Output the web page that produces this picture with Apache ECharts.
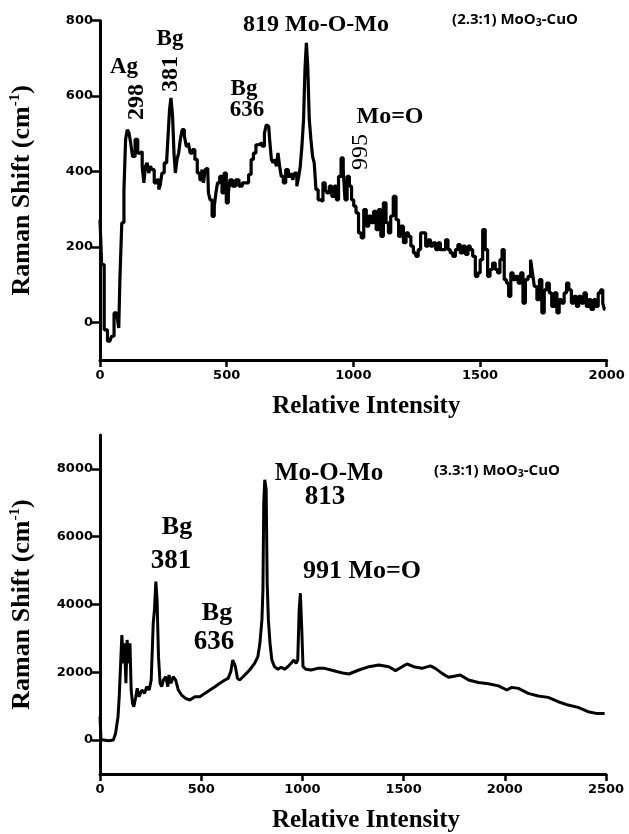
<!DOCTYPE html>
<html><head><meta charset="utf-8">
<script src="https://cdn.jsdelivr.net/npm/echarts@6/dist/echarts.min.js"></script>
<style>html,body{margin:0;padding:0;background:#fff}#c{width:629px;height:834px}</style>
</head><body><div id="c"></div>
<script>
// ---- Top panel: (2.3:1) MoO3-CuO ----
const topXValues = [0,13,20,39,52,59,72,76,81,91,98,104,111,118,124,133,144,154,163,170,176,183,189,196,202,209,219,229,235,241,248,259,268,272,277,283,290,294,301,307,314,320,329,337,344,353,359,370,379,389,399,405,412,418,425,431,438,447,455,460,468,477,486,494,503,510,516,529,542,555,568,581,592,601,610,621,634,645,653,660,666,673,680,686,693,699,706,712,719,728,738,749,758,764,773,781,788,793,801,806,812,817,823,829,836,842,849,856,866,875,885,893,900,910,920,929,937,946,957,963,971,980,989,997,1006,1015,1026,1036,1046,1056,1065,1074,1085,1095,1104,1113,1124,1134,1143,1152,1163,1174,1183,1192,1203,1213,1222,1232,1242,1251,1261,1270,1281,1290,1300,1309,1320,1330,1339,1348,1359,1369,1378,1387,1398,1408,1417,1427,1437,1448,1457,1466,1476,1487,1496,1505,1516,1525,1535,1544,1555,1565,1574,1583,1591,1600,1609,1617,1626,1635,1645,1656,1665,1674,1684,1695,1704,1710,1719,1730,1739,1749,1758,1769,1778,1788,1799,1808,1817,1827,1837,1846,1855,1866,1876,1885,1894,1905,1915,1924,1933,1943,1953,1962,1971,1981,1988,1994];
const topYValues = [272,153,-20,-50,-37,25,25,-15,113,264,350,485,511,502,476,440,485,449,453,414,370,414,423,396,414,405,370,378,352,365,396,423,432,511,564,595,547,449,396,432,449,485,511,494,467,476,449,458,432,396,378,405,370,405,409,343,325,281,308,343,370,387,343,396,317,343,378,361,378,361,370,370,392,432,449,471,476,467,502,524,520,485,432,423,432,414,449,414,387,370,405,387,396,378,396,361,387,414,467,538,670,741,679,538,485,440,423,352,325,321,370,352,343,361,334,361,325,387,436,405,325,387,361,325,308,290,237,224,299,255,282,264,294,246,299,228,317,264,237,282,334,272,228,255,211,237,228,202,184,175,193,237,237,202,219,202,211,193,211,193,193,219,193,184,175,193,206,184,202,180,202,193,175,122,131,166,246,193,122,140,157,140,131,166,193,113,104,69,131,113,122,104,131,51,113,122,166,131,95,60,113,25,86,104,78,42,78,25,60,51,78,104,86,51,69,42,69,51,78,42,60,34,60,42,78,86,51,34];
const topXTicks = [0,500,1000,1500,2000];
const topYTicks = [0,200,400,600,800];

// ---- Bottom panel: (3.3:1) MoO3-CuO ----
const botXValues = [0,5,18,42,66,77,89,95,102,108,115,121,128,134,141,148,154,161,167,177,184,193,207,220,231,243,253,263,269,276,282,289,297,305,313,325,335,341,351,362,374,387,403,423,444,469,494,518,543,568,592,617,633,646,656,663,669,679,690,707,723,739,764,780,790,800,805,809,814,821,826,832,840,849,862,879,895,912,928,944,958,969,977,984,990,997,1003,1018,1043,1076,1109,1142,1174,1207,1230,1279,1329,1378,1427,1460,1493,1517,1550,1591,1632,1657,1690,1722,1755,1780,1821,1870,1919,1969,2010,2034,2067,2116,2165,2214,2264,2313,2362,2411,2452,2493];
const botYValues = [700,0,0,-20,0,200,690,1280,2265,3100,2265,2855,1675,2955,2265,2855,1477,1083,985,1280,1526,1280,1477,1378,1575,1477,1772,3447,3840,4677,4136,2462,1675,1575,1772,1870,1575,1920,1675,1870,1772,1477,1329,1231,1182,1280,1280,1378,1477,1575,1675,1772,1821,2018,2363,2413,2166,1821,1772,1870,1969,2068,2265,2462,2855,3545,4431,6990,7680,7385,4628,3545,2855,2363,2166,2088,2147,2088,2166,2265,2363,2265,2363,3840,4333,3250,2166,2088,2068,2117,2117,2068,2018,1969,1950,2068,2166,2215,2166,2050,2166,2245,2166,2117,2190,2117,1969,1852,1890,1920,1772,1700,1660,1600,1477,1555,1526,1378,1300,1260,1132,1034,965,837,788,788];
const botXTicks = [0,500,1000,1500,2000,2500];
const botYTicks = [0,2000,4000,6000,8000];

const SERIF = '"Liberation Serif","Times New Roman",serif';
const SANS = '"DejaVu Sans",Arial,sans-serif';
const plain = v => String(v);

function xAxisCfg(gi, max, ticks) {
  return {
    type: 'value', gridIndex: gi, min: 0, max: max, interval: 500,
    name: 'Relative Intensity', nameLocation: 'middle', nameGap: 34,
    nameTextStyle: {fontFamily: SERIF, fontWeight: 'bold', fontSize: 25, color: '#000', padding: [0, 0, 0, 26]},
    axisLine: {show: true, onZero: false, lineStyle: {color: '#000', width: 3}},
    axisTick: {show: true, length: 7, lineStyle: {color: '#000', width: 2.5}, customValues: ticks},
    axisLabel: {color: '#000', fontFamily: SANS, fontWeight: 'bold', fontSize: 13, margin: 9, customValues: ticks, formatter: plain},
    splitLine: {show: false}
  };
}
function yAxisCfg(gi, min, max, ticks) {
  return {
    type: 'value', gridIndex: gi, min: min, max: max,
    name: '{a|Raman Shift (cm}{s|-1}{a|)}', nameLocation: 'middle', nameGap: 64, nameRotate: 90,
    nameTextStyle: {rich: {
      a: {fontFamily: SERIF, fontWeight: 'bold', fontSize: 26, color: '#000', lineHeight: 28},
      s: {fontFamily: SERIF, fontWeight: 'bold', fontSize: 15, color: '#000', lineHeight: 28, verticalAlign: 'top'}
    }},
    axisLine: {show: true, onZero: false, lineStyle: {color: '#000', width: 3}},
    axisTick: {show: true, length: 8, lineStyle: {color: '#000', width: 2.5}, customValues: ticks},
    axisLabel: {color: '#000', fontFamily: SANS, fontWeight: 'bold', fontSize: 13, margin: 7, customValues: ticks, formatter: plain},
    splitLine: {show: false}
  };
}

function txt(x, y, text, size, opts) {
  opts = opts || {};
  return {
    type: 'text', x: x, y: y, rotation: opts.rot || 0, z: 100,
    style: {
      text: text, fill: '#000', fontFamily: opts.family || SERIF,
      fontWeight: opts.weight || 'bold', fontSize: size,
      textAlign: 'center', textVerticalAlign: 'middle', rich: opts.rich
    }
  };
}
const subRich = (size) => ({sub: {fontFamily: '"Open Sans",' + SANS, fontWeight: 'bold', fontSize: size * 0.7, fill: '#000', padding: [size * 0.45, 0, 0, 0]}});

const chart = echarts.init(document.getElementById('c'), null, {renderer: 'canvas'});
chart.setOption({
  animation: false,
  backgroundColor: '#fff',
  grid: [
    {left: 96.7, right: 22.3, top: 20.7, height: 339.3, containLabel: false},
    {left: 98, right: 23, top: 435, height: 339, containLabel: false}
  ],
  xAxis: [xAxisCfg(0, 2000, topXTicks), xAxisCfg(1, 2500, botXTicks)],
  yAxis: [yAxisCfg(0, -100, 800, topYTicks), yAxisCfg(1, -1000, 9000, botYTicks)],
  series: [
    {type: 'line', xAxisIndex: 0, yAxisIndex: 0, showSymbol: false, symbol: 'none', step: 'middle',
     data: topXValues.map((x, i) => [x, topYValues[i]]),
     lineStyle: {color: '#000', width: 3.2}},
    {type: 'line', xAxisIndex: 1, yAxisIndex: 1, showSymbol: false, symbol: 'none',
     data: botXValues.map((x, i) => [x, botYValues[i]]),
     lineStyle: {color: '#000', width: 3}}
  ],
  graphic: [
    // top panel annotations
    txt(124, 67, 'Ag', 23),
    txt(137, 102, '298', 24, {rot: Math.PI / 2}),
    txt(170, 39, 'Bg', 23),
    txt(171, 74, '381', 24, {rot: Math.PI / 2}),
    txt(244, 89, 'Bg', 23),
    txt(247, 110, '636', 23),
    txt(316, 25, '819 Mo-O-Mo', 24),
    txt(390, 117, 'Mo=O', 24),
    txt(361, 152, '995', 24, {rot: Math.PI / 2, weight: 'normal'}),
    txt(515, 20, '(2.3:1) MoO{sub|3}-CuO', 15, {family: '"Open Sans",' + SANS, rich: subRich(15)}),
    // bottom panel annotations
    txt(177, 527, 'Bg', 26),
    txt(171, 561, '381', 27),
    txt(217, 613, 'Bg', 26),
    txt(214, 642, '636', 27),
    txt(329, 474, 'Mo-O-Mo', 25),
    txt(325, 497, '813', 27),
    txt(362, 571, '991 Mo=O', 26),
    txt(497, 471, '(3.3:1) MoO{sub|3}-CuO', 15, {family: '"Open Sans",' + SANS, rich: subRich(15)})
  ]
});
</script></body></html>
